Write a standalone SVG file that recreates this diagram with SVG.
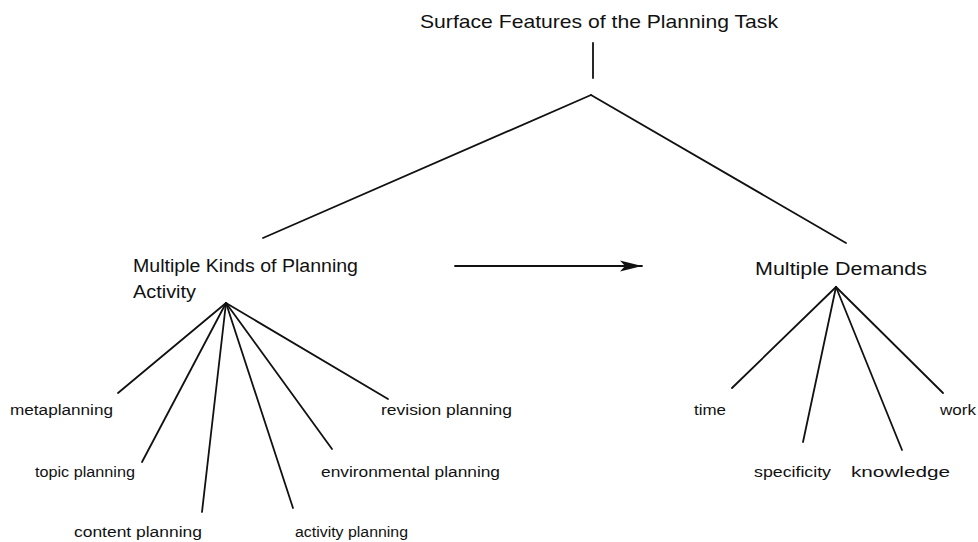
<svg xmlns="http://www.w3.org/2000/svg" width="978" height="542" viewBox="0 0 978 542">
<defs>
<style>
text{font-family:"Liberation Sans",Arial,sans-serif;fill:#111}
.t{font-size:19px}
.h{font-size:18px}
.l{font-size:15.5px}
.c line{stroke:#111;stroke-width:1.8;fill:none;stroke-linecap:round}
</style>
<marker id="ah" markerWidth="24" markerHeight="14" refX="22" refY="7" orient="auto" markerUnits="userSpaceOnUse">
<path d="M0,1.5 L22,7 L0,12.5 L5,7 Z" fill="#111"/>
</marker>
</defs>
<rect width="978" height="542" fill="#fff"/>
<g class="c" id="connectors">
<line x1="593" y1="43" x2="593" y2="78"/>
<line x1="591" y1="95" x2="263" y2="238"/>
<line x1="591" y1="95" x2="846" y2="243"/>
<line x1="455" y1="266" x2="642" y2="266" marker-end="url(#ah)"/>
<line x1="226" y1="303" x2="118" y2="393"/>
<line x1="226" y1="303" x2="142" y2="462"/>
<line x1="226" y1="303" x2="202" y2="512"/>
<line x1="226" y1="303" x2="293" y2="508"/>
<line x1="226" y1="303" x2="332" y2="449"/>
<line x1="226" y1="303" x2="388" y2="399"/>
<line x1="836" y1="287" x2="732" y2="388"/>
<line x1="836" y1="287" x2="803" y2="442"/>
<line x1="836" y1="287" x2="902" y2="450"/>
<line x1="836" y1="287" x2="943" y2="393"/>
</g>
<g id="root"><text class="t" x="420" y="28" textLength="358" lengthAdjust="spacingAndGlyphs">Surface Features of the Planning Task</text></g>
<g id="kinds"><text class="h" x="133" y="272" textLength="225" lengthAdjust="spacingAndGlyphs">Multiple Kinds of Planning</text><text class="h" x="133" y="298" textLength="63" lengthAdjust="spacingAndGlyphs">Activity</text></g>
<g id="demands"><text class="h" x="755" y="275" textLength="172" lengthAdjust="spacingAndGlyphs">Multiple Demands</text></g>
<g id="metaplanning"><text class="l" x="10" y="415" textLength="103" lengthAdjust="spacingAndGlyphs">metaplanning</text></g>
<g id="topic"><text class="l" x="35" y="477" textLength="100" lengthAdjust="spacingAndGlyphs">topic planning</text></g>
<g id="content"><text class="l" x="74" y="537" textLength="128" lengthAdjust="spacingAndGlyphs">content planning</text></g>
<g id="activity"><text class="l" x="295" y="537" textLength="113" lengthAdjust="spacingAndGlyphs">activity planning</text></g>
<g id="environmental"><text class="l" x="321" y="477" textLength="179" lengthAdjust="spacingAndGlyphs">environmental planning</text></g>
<g id="revision"><text class="l" x="381" y="415" textLength="131" lengthAdjust="spacingAndGlyphs">revision planning</text></g>
<g id="time"><text class="l" x="694" y="415" textLength="32" lengthAdjust="spacingAndGlyphs">time</text></g>
<g id="work"><text class="l" x="940" y="415" textLength="36" lengthAdjust="spacingAndGlyphs">work</text></g>
<g id="specificity"><text class="l" x="754" y="477" textLength="77" lengthAdjust="spacingAndGlyphs">specificity</text></g>
<g id="knowledge"><text class="l" x="851" y="477" textLength="99" lengthAdjust="spacingAndGlyphs">knowledge</text></g>
</svg>
